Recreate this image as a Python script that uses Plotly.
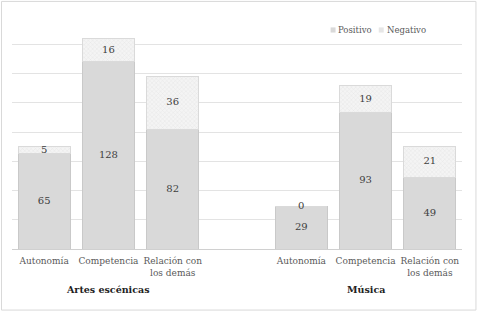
import plotly.graph_objects as go

categories = ["Autonomía", "Competencia", "Relación con<br>los demás",
              "Autonomía", "Competencia", "Relación con<br>los demás"]
groups = ["Artes escénicas", "Música"]
positivo = [65, 128, 82, 29, 93, 49]
negativo = [5, 16, 36, 0, 19, 21]
series_names = ["Positivo", "Negativo"]

xpos = [0, 1, 2, 4, 5, 6]
font = "DejaVu Serif"
txtcol = "#595959"
pos_col = "#d9d9d9"
neg_col = "#efefef"

fig = go.Figure()
fig.add_trace(go.Bar(
    x=xpos, y=positivo, name=series_names[0], width=0.81, showlegend=False,
    marker=dict(color=pos_col, line=dict(color="#c9c9c9", width=1)),
))
fig.add_trace(go.Bar(
    x=xpos, y=negativo, name=series_names[1], width=0.81, showlegend=False,
    marker=dict(color=neg_col, line=dict(color="#dadada", width=1),
                pattern=dict(shape="x", fgcolor="#d6d6d6", bgcolor="#f4f4f4",
                             size=3, solidity=0.3)),
))
# data labels
fig.add_trace(go.Scatter(
    x=xpos, y=[p / 2 for p in positivo], mode="text",
    text=[str(v) for v in positivo], showlegend=False, hoverinfo="skip",
    textfont=dict(family=font, size=10, color="#404040"),
))
fig.add_trace(go.Scatter(
    x=xpos, y=[p + n / 2 for p, n in zip(positivo, negativo)], mode="text",
    text=[str(v) for v in negativo], showlegend=False, hoverinfo="skip",
    textfont=dict(family=font, size=10, color="#404040"),
))

fig.update_layout(
    width=478, height=312,
    margin=dict(l=12, r=16, t=15, b=63, autoexpand=False),
    barmode="stack",
    paper_bgcolor="white", plot_bgcolor="white",
    font=dict(family=font, size=9, color=txtcol),
    showlegend=False,
    xaxis=dict(range=[-0.5, 6.5], tickmode="array", tickvals=xpos, ticktext=categories,
               tickangle=0, automargin=False, ticklabelstandoff=5,
               showgrid=False, zeroline=False, showline=False, ticks="",
               tickfont=dict(family=font, size=9, color=txtcol)),
    yaxis=dict(range=[0, 160], dtick=20, showgrid=True, gridcolor="#e3e3e3",
               showticklabels=False, zeroline=True, zerolinecolor="#d0d0d0",
               zerolinewidth=1, ticks="", automargin=False),
)

for gx, g in zip([1, 5], groups):
    fig.add_annotation(x=gx, xref="x", y=-0.172, yref="paper", text="<b>" + g + "</b>",
                       showarrow=False, font=dict(family=font, size=9.5, color="#222222"),
                       yanchor="middle")

# manual legend (small square swatches)
leg_y = 0.936
for lx, name, col in zip([0.708, 0.815], series_names, [pos_col, "#e6e6e6"]):
    fig.add_shape(type="rect", xref="paper", yref="paper",
                  x0=lx, x1=lx + 0.011, y0=leg_y - 0.011, y1=leg_y + 0.011,
                  fillcolor=col, line=dict(width=0))
    fig.add_annotation(x=lx + 0.013, y=leg_y, xref="paper", yref="paper", text=name,
                       showarrow=False, xanchor="left", yanchor="middle",
                       font=dict(family=font, size=8.5, color=txtcol))

fig.add_shape(type="rect", xref="paper", yref="paper",
              x0=-0.0233, x1=1.031, y0=-0.261, y1=1.058,
              line=dict(color="#d9d9d9", width=1))

fig.write_html("out.html", post_script="document.body.style.margin='0';",
               config={"displayModeBar": False})
